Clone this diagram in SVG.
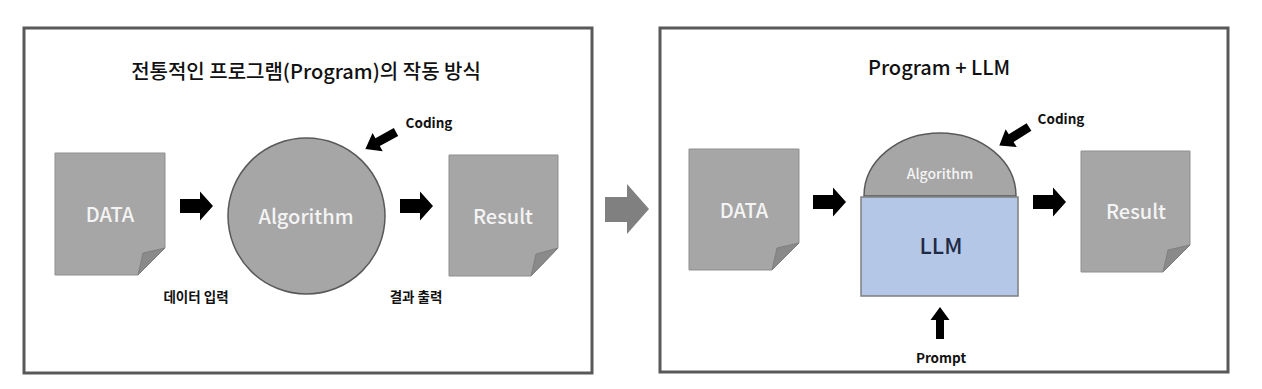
<svg xmlns="http://www.w3.org/2000/svg" xmlns:xlink="http://www.w3.org/1999/xlink" width="1262" height="389" viewBox="0 0 1262 389">
<style>
.panel{fill:#fff;stroke:#595959;stroke-width:3}
.doc{fill:#a6a6a6;stroke:#8f8f8f;stroke-width:1}
.fold{fill:#8a8a8a;stroke:#7a7a7a;stroke-width:0.8}
.alg{fill:#a6a6a6;stroke:#595959;stroke-width:1.5}
.llm{fill:#b4c7e7;stroke:#7f7f7f;stroke-width:1.5}
.blk{fill:#000}
.t{font-family:"Noto Sans CJK KR","Noto Sans",sans-serif;text-anchor:middle;dominant-baseline:central}
.title{font-size:20px;fill:#111;font-weight:500}
.w{fill:#f4f4f4;font-size:20px;font-weight:500}
.lab{font-size:13.5px;fill:#111;font-weight:700}
</style>
<defs>
<path id="ar" d="M0,-7 H20 V-14.5 L33,0 L20,14.5 V7 H0 Z"/>
<path id="dg" d="M0,-4.5 H21 V-10.5 L35,0 L21,10.5 V4.5 H0 Z"/>
</defs>
<rect width="1262" height="389" fill="#fff"/>
<g id="panel-left">
<rect class="panel" x="24" y="28" width="568" height="345"/>
<text class="t title" x="306" y="70">전통적인 프로그램(Program)의 작동 방식</text>
</g>
<g id="panel-right">
<rect class="panel" x="660" y="28" width="568" height="344"/>
<text class="t title" x="939" y="66">Program + LLM</text>
</g>
<g id="data1">
<path class="doc" d="M55,153 H165 V248 L138,275 H55 Z"/>
<path class="fold" d="M165,248 L138,275 L143,253 Z"/>
<text class="t w" x="110" y="213">DATA</text>
</g>
<g id="algorithm1">
<ellipse class="alg" cx="306.5" cy="216" rx="78.5" ry="78"/>
<text class="t w" x="306" y="215">Algorithm</text>
</g>
<g id="result1">
<path class="doc" d="M449,155 H558 V248 L531,276 H449 Z"/>
<path class="fold" d="M558,248 L531,276 L536,254 Z"/>
<text class="t w" x="503" y="215">Result</text>
</g>
<g id="data2">
<path class="doc" d="M689,149 H799 V243 L772,270 H689 Z"/>
<path class="fold" d="M799,243 L772,270 L777,248 Z"/>
<text class="t w" x="744" y="209">DATA</text>
</g>
<g id="algorithm-llm">
<path class="alg" d="M864,196 A76,63 0 0 1 1016,196 Z"/>
<rect class="llm" x="861" y="197" width="157" height="99"/>
<text class="t" x="940" y="173" style="font-size:14px;fill:#f4f4f4;font-weight:500">Algorithm</text>
<text class="t" x="941" y="244" style="font-size:22px;fill:#1f2a44;font-weight:500">LLM</text>
</g>
<g id="result2">
<path class="doc" d="M1081,151 H1190 V245 L1163,272 H1081 Z"/>
<path class="fold" d="M1190,245 L1163,272 L1168,250 Z"/>
<text class="t w" x="1136" y="210">Result</text>
</g>
<g id="connectors">
<use xlink:href="#ar" class="blk" transform="translate(180,206)"/>
<use xlink:href="#ar" class="blk" transform="translate(400,206)"/>
<use xlink:href="#dg" class="blk" transform="translate(396,132) rotate(151)"/>
<path d="M605,197 H627 V184 L649,209 L627,234 V222 H605 Z" fill="#808080"/>
<use xlink:href="#ar" class="blk" transform="translate(813,202)"/>
<use xlink:href="#ar" class="blk" transform="translate(1033,202)"/>
<use xlink:href="#dg" class="blk" transform="translate(1029,127) rotate(148)"/>
<path class="blk" d="M936,339 V320 H930.5 L940,307 L949.5,320 H944 V339 Z"/>
</g>
<g id="labels">
<text class="t lab" x="196" y="296">데이터 입력</text>
<text class="t lab" x="416" y="296">결과 출력</text>
<text class="t lab" x="429" y="122">Coding</text>
<text class="t lab" x="1061" y="118">Coding</text>
<text class="t lab" x="941" y="357">Prompt</text>
</g>
</svg>
